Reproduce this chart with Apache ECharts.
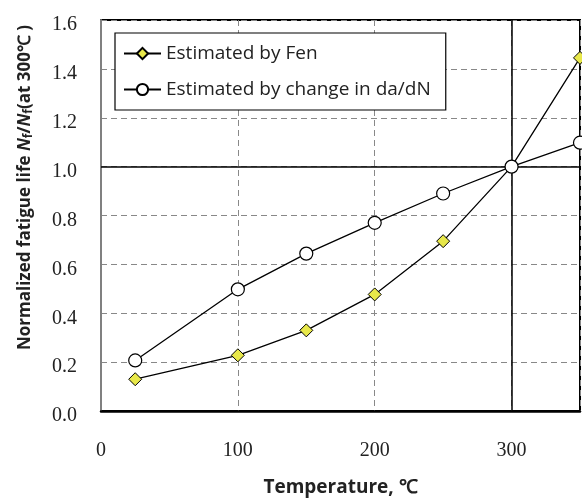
<!DOCTYPE html>
<html>
<head>
<meta charset="utf-8">
<script src="https://cdn.jsdelivr.net/npm/echarts@6/dist/echarts.min.js"></script>
<style>html,body{margin:0;padding:0;background:#fff;}#c{width:582px;height:498px;}</style>
</head>
<body>
<div id="c"></div>
<script>
const temps = [25, 100, 150, 200, 250, 300, 350];
const fenValues = [0.13, 0.228, 0.33, 0.477, 0.695, 1.0, 1.445];
const dadnValues = [0.207, 0.498, 0.644, 0.77, 0.89, 1.0, 1.098];
const seriesNames = ['Estimated by Fen', 'Estimated by change in da/dN'];
const xTicks = [0, 100, 200, 300];
const yTicks = [0.0, 0.2, 0.4, 0.6, 0.8, 1.0, 1.2, 1.4, 1.6];
const refX = 300, refY = 1.0;

const chart = echarts.init(document.getElementById('c'), null, {renderer: 'canvas'});
const pair = (xs, ys) => xs.map((x, i) => [x, ys[i]]);
const serif = 'Liberation Serif';
const sans = 'Open Sans';

chart.setOption({
  animation: false,
  backgroundColor: '#fff',
  grid: {left: 101, right: 2, top: 20, bottom: 87, show: true, borderColor: '#000', borderWidth: 2,
    outerBoundsMode: 'none', containLabel: false},
  legend: {
    left: 115, top: 33, orient: 'vertical',
    backgroundColor: '#fff', borderColor: '#000', borderWidth: 1.2,
    padding: [11, 15, 11, 8], itemGap: 17, itemWidth: 37, itemHeight: 14,
    textStyle: {fontFamily: sans, fontSize: 19, color: '#222'},
    data: seriesNames
  },
  xAxis: {
    type: 'value', min: 0, max: 350, interval: 100,
    name: 'Temperature, ℃', nameLocation: 'middle', nameGap: 67,
    nameTextStyle: {fontFamily: sans, fontWeight: 'bold', fontSize: 19, color: '#222'},
    axisLine: {lineStyle: {color: '#000', width: 2.5}},
    axisTick: {show: false},
    axisLabel: {fontFamily: serif, fontSize: 20, color: '#222', margin: 30, showMaxLabel: false,
      formatter: v => xTicks.includes(v) ? String(v) : ''},
    splitLine: {lineStyle: {color: '#888', type: [6, 4], width: 1}}
  },
  yAxis: {
    type: 'value', min: 0, max: 1.6, interval: 0.2,
    name: '{b|Normalized fatigue life }{i|N}{s|f}{b|/}{i|N}{s|f}{b|(at 300℃ )}',
    nameLocation: 'middle', nameGap: 66,
    nameTextStyle: {
      padding: [0, 0, 0, 56],
      rich: {
        b: {fontFamily: sans, fontWeight: 'bold', fontSize: 17, color: '#222'},
        i: {fontFamily: sans, fontWeight: 'bold', fontStyle: 'italic', fontSize: 17, color: '#222'},
        s: {fontFamily: sans, fontWeight: 'bold', fontSize: 12, color: '#222', verticalAlign: 'bottom', padding: [8, 0, 0, 0]}
      }
    },
    axisLine: {show: true, lineStyle: {color: '#808080', width: 2}},
    axisTick: {show: false},
    axisLabel: {fontFamily: serif, fontSize: 20, color: '#222', margin: 24, verticalAlign: 'top', lineHeight: 10,
      formatter: v => { const t = yTicks.find(y => Math.abs(y - v) < 1e-6); return t === undefined ? '' : t.toFixed(1); }},
    splitLine: {lineStyle: {color: '#888', type: [6, 4], width: 1}}
  },
  series: [
    {
      name: seriesNames[0], type: 'line', data: pair(temps, fenValues),
      symbol: 'diamond', symbolSize: 13,
      lineStyle: {color: '#000', width: 1.3},
      itemStyle: {color: '#e8e84a', borderColor: '#000', borderWidth: 1},
      z: 5,
      markLine: {
        silent: true, symbol: 'none', label: {show: false},
        lineStyle: {color: '#000', type: 'solid', width: 1.5},
        data: [{xAxis: refX}, {yAxis: refY}],
        z: 3
      }
    },
    {
      name: seriesNames[1], type: 'line', data: pair(temps, dadnValues),
      symbol: 'circle', symbolSize: 13,
      lineStyle: {color: '#000', width: 1.3},
      itemStyle: {color: '#fff', borderColor: '#000', borderWidth: 1.2},
      z: 6
    }
  ]
});
</script>
</body>
</html>
